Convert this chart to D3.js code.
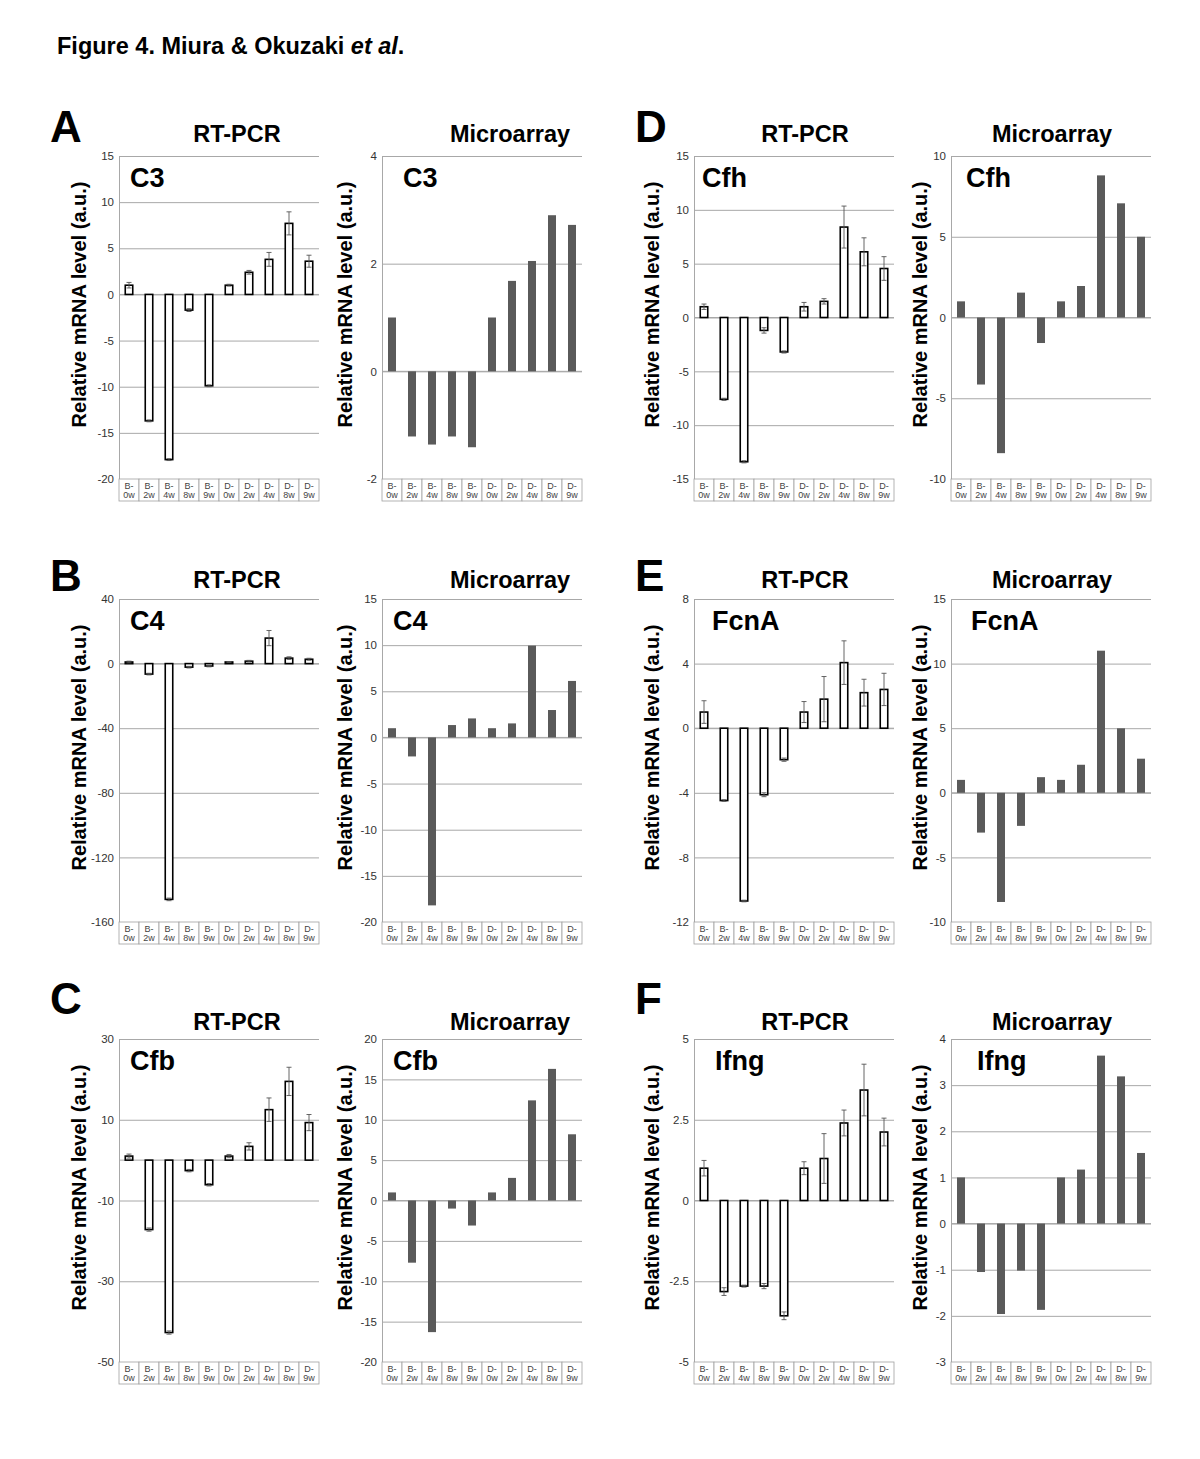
<!DOCTYPE html>
<html><head><meta charset="utf-8">
<script src="https://cdn.jsdelivr.net/npm/d3@7"></script>
<style>
body{margin:0;background:#fff}
svg{display:block}
text{font-family:"Liberation Sans",Arial,Helvetica,sans-serif}
</style>
</head><body>
<svg id="chart" width="1200" height="1459"></svg>
<script>
// ---------- data ----------
const categories = ["B-0w","B-2w","B-4w","B-8w","B-9w","D-0w","D-2w","D-4w","D-8w","D-9w"];

const c3Rt      = [1.0,-13.7,-17.9,-1.7,-9.9,1.0,2.4,3.8,7.7,3.6];
const c3RtErr   = [0.3,0.1,0.1,0.15,0.1,0.1,0.2,0.75,1.25,0.65];
const c3Micro   = [1.0,-1.21,-1.36,-1.21,-1.41,1.0,1.68,2.05,2.9,2.72];
const c3RtTicks = [15,10,5,0,-5,-10,-15,-20];
const c3MicroTicks = [4,2,0,-2];

const c4Rt      = [1.0,-6.5,-146,-2.2,-1.5,1.0,1.5,15.8,3.4,2.7];
const c4RtErr   = [0.5,0.5,0.8,0.5,0.5,0.3,0.5,4.7,0.8,0.6];
const c4Micro   = [1.0,-2.06,-18.2,1.34,2.06,1.0,1.52,9.95,2.97,6.12];
const c4RtTicks = [40,0,-40,-80,-120,-160];
const c4MicroTicks = [15,10,5,0,-5,-10,-15,-20];

const cfbRt     = [1.0,-17.2,-42.7,-2.6,-6.1,1.0,3.4,12.5,19.5,9.3];
const cfbRtErr  = [0.5,0.4,0.4,0.3,0.3,0.4,0.9,2.9,3.5,2.0];
const cfbMicro  = [1.0,-7.7,-16.3,-1.0,-3.1,1.0,2.8,12.4,16.3,8.2];
const cfbRtTicks = [30,10,-10,-30,-50];
const cfbMicroTicks = [20,15,10,5,0,-5,-10,-15,-20];

const cfhRt     = [1.0,-7.6,-13.4,-1.2,-3.2,1.0,1.5,8.4,6.1,4.55];
const cfhRtErr  = [0.25,0.1,0.1,0.25,0.1,0.4,0.25,1.95,1.3,1.1];
const cfhMicro  = [1.0,-4.15,-8.4,1.54,-1.58,1.0,1.95,8.8,7.07,5.0];
const cfhRtTicks = [15,10,5,0,-5,-10,-15];
const cfhMicroTicks = [10,5,0,-5,-10];

const fcnaRt    = [1.0,-4.48,-10.7,-4.12,-1.95,1.0,1.8,4.06,2.2,2.4];
const fcnaRtErr = [0.7,0.05,0.05,0.12,0.1,0.65,1.4,1.35,0.83,1.0];
const fcnaMicro = [1.0,-3.08,-8.45,-2.56,1.21,1.0,2.17,11.0,4.99,2.64];
const fcnaRtTicks = [8,4,0,-4,-8,-12];
const fcnaMicroTicks = [15,10,5,0,-5,-10];

const ifngRt    = [1.0,-2.82,-2.65,-2.65,-3.57,1.0,1.3,2.4,3.42,2.12];
const ifngRtErr = [0.24,0.12,0.03,0.08,0.12,0.2,0.77,0.4,0.8,0.43];
const ifngMicro = [1.0,-1.05,-1.96,-1.02,-1.87,1.0,1.17,3.64,3.19,1.53];
const ifngRtTicks = [5,2.5,0,-2.5,-5];
const ifngMicroTicks = [4,3,2,1,0,-1,-2,-3];

const panelLetters = ["A","B","C","D","E","F"];
const methodTitles = ["RT-PCR","Microarray"];
const yLabel = "Relative mRNA level (a.u.)";

// ---------- layout ----------
const W = 1200, H = 1459;
const colX = [119, 382, 694, 951];
const rowTop = [156, 599, 1039];
const plotW = 200, plotH = 323, tableH = 22;
const titleCX = [237, 510, 805, 1052];
const titleBase = [142, 588, 1030];
const letterX = [50, 635];
const letterBase = [142, 591, 1014];
const yLabelCX = [86, 352, 659, 927];

const panels = [
  {row:0,col:0,gene:"C3",  vals:c3Rt,   err:c3RtErr,  ticks:c3RtTicks,  type:"rt",   gx:130},
  {row:0,col:1,gene:"C3",  vals:c3Micro,err:null,     ticks:c3MicroTicks,type:"micro",gx:403},
  {row:1,col:0,gene:"C4",  vals:c4Rt,   err:c4RtErr,  ticks:c4RtTicks,  type:"rt",   gx:130},
  {row:1,col:1,gene:"C4",  vals:c4Micro,err:null,     ticks:c4MicroTicks,type:"micro",gx:393},
  {row:2,col:0,gene:"Cfb", vals:cfbRt,  err:cfbRtErr, ticks:cfbRtTicks, type:"rt",   gx:130},
  {row:2,col:1,gene:"Cfb", vals:cfbMicro,err:null,    ticks:cfbMicroTicks,type:"micro",gx:393},
  {row:0,col:2,gene:"Cfh", vals:cfhRt,  err:cfhRtErr, ticks:cfhRtTicks, type:"rt",   gx:702},
  {row:0,col:3,gene:"Cfh", vals:cfhMicro,err:null,    ticks:cfhMicroTicks,type:"micro",gx:966},
  {row:1,col:2,gene:"FcnA",vals:fcnaRt, err:fcnaRtErr,ticks:fcnaRtTicks,type:"rt",   gx:712},
  {row:1,col:3,gene:"FcnA",vals:fcnaMicro,err:null,   ticks:fcnaMicroTicks,type:"micro",gx:971},
  {row:2,col:2,gene:"Ifng",vals:ifngRt, err:ifngRtErr,ticks:ifngRtTicks,type:"rt",   gx:715},
  {row:2,col:3,gene:"Ifng",vals:ifngMicro,err:null,   ticks:ifngMicroTicks,type:"micro",gx:977}
];

const svg = d3.select("#chart");
svg.append("rect").attr("width",W).attr("height",H).attr("fill","#fff");

// header
const hdr = svg.append("text").attr("x",57).attr("y",54)
  .attr("font-size",23.5).attr("font-weight","bold").attr("fill","#000");
hdr.append("tspan").text("Figure 4. Miura & Okuzaki ");
hdr.append("tspan").attr("font-style","italic").text("et al");
hdr.append("tspan").text(".");

// panel letters
panelLetters.forEach((L,i)=>{
  const col = i<3 ? 0 : 1, row = i%3;
  svg.append("text").attr("x",letterX[col]).attr("y",letterBase[row])
    .attr("font-size",44).attr("font-weight","bold").attr("fill","#000").text(L);
});

function drawPanel(p){
  const x0 = colX[p.col], y0 = rowTop[p.row];
  const g = svg.append("g");
  const tmin = d3.min(p.ticks), tmax = d3.max(p.ticks);
  const x = d3.scaleBand().domain(categories).range([x0, x0+plotW]);
  const y = d3.scaleLinear().domain([tmin,tmax]).range([y0+plotH, y0]);

  // method title
  g.append("text").attr("x",titleCX[p.col]).attr("y",titleBase[p.row])
    .attr("text-anchor","middle").attr("font-size",23.5).attr("font-weight","bold")
    .text(methodTitles[p.type==="rt"?0:1]);

  // y label
  const cy = y0 + plotH/2 - 13;
  g.append("text").attr("transform",`translate(${yLabelCX[p.col]},${cy}) rotate(-90)`)
    .attr("text-anchor","middle").attr("font-size",20).attr("font-weight","bold")
    .text(yLabel);

  // y axis with gridlines
  const ax = g.append("g").attr("transform",`translate(${x0},0)`)
    .call(d3.axisLeft(y).tickValues(p.ticks).tickSizeInner(-plotW).tickSizeOuter(0)
      .tickPadding(5).tickFormat(d=>String(d)));
  ax.select(".domain").attr("stroke","#a8a8a8").attr("stroke-width",1);
  ax.selectAll(".tick line").attr("stroke","#a8a8a8").attr("stroke-width",1);
  ax.selectAll(".tick text").attr("font-size",11.5).attr("fill","#333")
    .attr("font-family","'Liberation Sans',Arial,sans-serif");

  // zero line
  g.append("line").attr("x1",x0).attr("x2",x0+plotW).attr("y1",y(0)).attr("y2",y(0))
    .attr("stroke","#a8a8a8").attr("stroke-width",1);

  // category table
  const tb = y0+plotH;
  g.selectAll(".cell").data(categories).join("rect")
    .attr("x",d=>x(d)).attr("y",tb).attr("width",x.bandwidth()).attr("height",tableH)
    .attr("fill","#fff").attr("stroke","#a0a0a0").attr("stroke-width",0.8);
  g.selectAll(".c1").data(categories).join("text")
    .attr("x",d=>x(d)+x.bandwidth()/2).attr("y",tb+9.5).attr("text-anchor","middle")
    .attr("font-size",9).attr("fill","#444").text(d=>d.split("-")[0]+"-");
  g.selectAll(".c2").data(categories).join("text")
    .attr("x",d=>x(d)+x.bandwidth()/2).attr("y",tb+19).attr("text-anchor","middle")
    .attr("font-size",9).attr("fill","#444").text(d=>d.split("-")[1]);

  // gene label
  g.append("text").attr("x",p.gx).attr("y",y0+31).attr("font-size",27)
    .attr("font-weight","bold").text(p.gene);

  const data = categories.map((c,i)=>({c, v:p.vals[i], e:p.err?p.err[i]:0}));
  if(p.type==="rt"){
    const bw = 7.5;
    g.selectAll(".bar").data(data).join("rect")
      .attr("x",d=>x(d.c)+x.bandwidth()/2-bw/2)
      .attr("y",d=>y(Math.max(0,d.v)))
      .attr("width",bw)
      .attr("height",d=>Math.abs(y(d.v)-y(0)))
      .attr("fill","#fff").attr("stroke","#000").attr("stroke-width",1.6);
    const eg = g.selectAll(".err").data(data).join("g").attr("stroke","#555").attr("stroke-width",0.9);
    eg.append("line").attr("x1",d=>x(d.c)+x.bandwidth()/2).attr("x2",d=>x(d.c)+x.bandwidth()/2)
      .attr("y1",d=>y(d.v+d.e)).attr("y2",d=>y(d.v-d.e));
    eg.append("line").attr("x1",d=>x(d.c)+x.bandwidth()/2-2.5).attr("x2",d=>x(d.c)+x.bandwidth()/2+2.5)
      .attr("y1",d=>y(d.v+d.e)).attr("y2",d=>y(d.v+d.e));
    eg.append("line").attr("x1",d=>x(d.c)+x.bandwidth()/2-2.5).attr("x2",d=>x(d.c)+x.bandwidth()/2+2.5)
      .attr("y1",d=>y(d.v-d.e)).attr("y2",d=>y(d.v-d.e));
  } else {
    const bw = 8;
    g.selectAll(".bar").data(data).join("rect")
      .attr("x",d=>x(d.c)+x.bandwidth()/2-bw/2)
      .attr("y",d=>y(Math.max(0,d.v)))
      .attr("width",bw)
      .attr("height",d=>Math.abs(y(d.v)-y(0)))
      .attr("fill","#5a5a5a");
  }
}
panels.forEach(drawPanel);
</script>
</body></html>
